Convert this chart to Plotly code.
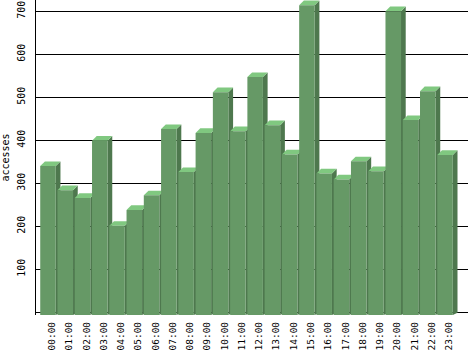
import plotly.graph_objects as go

# ---- data ----
hours = ["00:00", "01:00", "02:00", "03:00", "04:00", "05:00", "06:00", "07:00",
         "08:00", "09:00", "10:00", "11:00", "12:00", "13:00", "14:00", "15:00",
         "16:00", "17:00", "18:00", "19:00", "20:00", "21:00", "22:00", "23:00"]
accesses = [340, 284, 266, 399, 201, 238, 272, 426, 326, 417, 512, 421,
            547, 435, 367, 714, 323, 309, 351, 328, 700, 447, 514, 366]
y_ticks = [100, 200, 300, 400, 500, 600, 700]

# ---- style / geometry ----
FRONT = "#669966"
SIDE = "#4e784e"
TOP = "#80c880"
X_RANGE = [-0.695, 24.33]
Y_RANGE = [-6.3, 726.3]
BAR_W = 0.9          # front face width (category units)
DX = 0.272           # 3D depth, x (category units)
DY = 10.9            # 3D depth, y (value units)
BASE = Y_RANGE[0]
FONT = "DejaVu Sans Mono"

xs = list(range(len(hours)))

fig = go.Figure()

# side and top faces (drawn left to right, underneath the fronts)
for x, v in zip(xs, accesses):
    xr = x + BAR_W / 2
    xl = x - BAR_W / 2
    fig.add_trace(go.Scatter(
        x=[xr, xr, xr + DX, xr + DX, xr],
        y=[BASE, v, v + DY, BASE + DY / 2, BASE],
        mode="lines", fill="toself", fillcolor=SIDE, line=dict(width=0),
        hoverinfo="skip", showlegend=False))
    fig.add_trace(go.Scatter(
        x=[xl, xr, xr + DX, xl + DX, xl],
        y=[v, v, v + DY, v + DY, v],
        mode="lines", fill="toself", fillcolor=TOP, line=dict(width=0),
        hoverinfo="skip", showlegend=False))

# front faces on an overlaid subplot so they cover later faces correctly
fig.add_trace(go.Bar(
    x=xs, y=[v - BASE for v in accesses], base=BASE, width=BAR_W,
    marker=dict(color=FRONT, line=dict(width=0)),
    xaxis="x2", yaxis="y2", showlegend=False,
    hovertext=hours, name="accesses"))

fig.update_layout(
    width=468, height=351,
    margin=dict(l=36, r=0, t=0, b=36, pad=0, autoexpand=False),
    paper_bgcolor="white", plot_bgcolor="white",
    showlegend=False,
    font=dict(family=FONT, size=10, color="black"),
    xaxis=dict(
        range=X_RANGE, tickvals=[x + 0.23 for x in xs], ticktext=hours,
        tickangle=-90, showgrid=False, zeroline=False, showline=False,
        ticks="", ticklabelstandoff=4, automargin=False,
        tickfont=dict(family=FONT, size=9.5, color="black")),
    yaxis=dict(
        range=Y_RANGE, tickvals=y_ticks, tickangle=-90,
        showgrid=True, gridcolor="black", gridwidth=1,
        zeroline=True, zerolinecolor="black", zerolinewidth=1,
        showline=True, linecolor="black", linewidth=1,
        ticks="", ticklabelstandoff=6, automargin=False,
        tickfont=dict(family=FONT, size=10, color="black"),
        title=dict(text="accesses", standoff=4,
                   font=dict(family=FONT, size=10, color="black"))),
    xaxis2=dict(range=X_RANGE, overlaying="x", visible=False),
    yaxis2=dict(range=Y_RANGE, overlaying="y", visible=False),
)

fig.write_html("out.html")
